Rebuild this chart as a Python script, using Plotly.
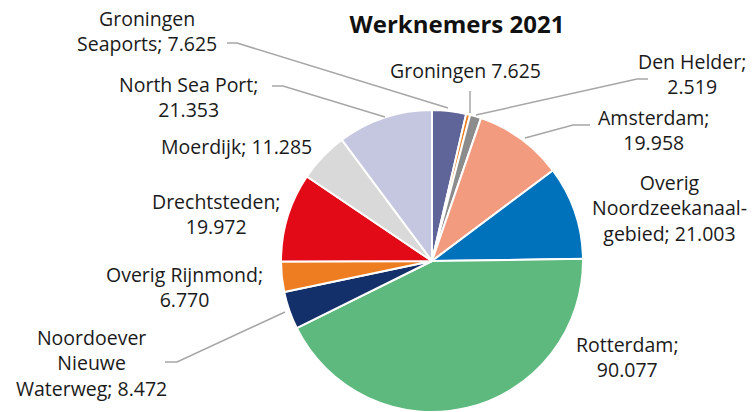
import plotly.graph_objects as go

W, H = 756, 412

# Data (clockwise from 12 o'clock)
regions = ["Groningen Seaports", "Groningen", "Den Helder", "Amsterdam",
           "Overig Noordzeekanaalgebied", "Rotterdam", "Noordoever Nieuwe Waterweg",
           "Overig Rijnmond", "Drechtsteden", "Moerdijk", "North Sea Port"]
# slice sizes as drawn in the picture (the "Groningen" slice is drawn as a sliver)
slice_values = [7.625, 0.9, 2.519, 19.958, 21.003, 90.077, 8.472, 6.770, 19.972, 11.285, 21.353]
# values as printed in the labels
label_values = ["7.625", "7.625", "2.519", "19.958", "21.003", "90.077", "8.472",
                "6.770", "19.972", "11.285", "21.353"]
label_texts = ["Groningen<br>Seaports; 7.625", "Groningen 7.625", "Den Helder;<br>2.519",
               "Amsterdam;<br>19.958", "Overig<br>Noordzeekanaal-<br>gebied; 21.003",
               "Rotterdam;<br>90.077", "Noordoever<br>Nieuwe<br>Waterweg; 8.472",
               "Overig Rijnmond;<br>6.770", "Drechtsteden;<br>19.972", "Moerdijk; 11.285",
               "North Sea Port;<br>21.353"]
colors = ["#5f6598", "#ee7d21", "#8c8c8c", "#f29b7e", "#0071bb", "#5eb97e",
          "#13306a", "#ee7d21", "#e30a17", "#d9d9d9", "#c5c7e0"]

# label centres (pixels)
label_pos = [(147, 31), (465, 70), (692, 74), (654, 130), (669, 208), (627, 357),
             (91, 363), (184, 287), (216, 214), (236, 146), (188, 97)]
# leader lines (pixels), None where no line
leaders = [
    [(227, 43), (237, 43), (448, 108)],
    [(470, 91), (470, 113)],
    [(476, 115), (637, 79), (648, 79)],
    [(525, 138), (573, 125), (590, 125)],
    None, None,
    [(285, 312), (177, 362), (165, 362)],
    None, None, None,
    [(272, 86), (283, 86), (385, 117)],
]

def px(x):
    return x / W

def py(y):
    return 1 - y / H

cx, cy, r = 432, 261, 151

fig = go.Figure(go.Pie(
    labels=regions, values=slice_values, sort=False, direction="clockwise",
    rotation=0, textinfo="none", hoverinfo="label+value",
    marker=dict(colors=colors, line=dict(color="white", width=2)),
    domain=dict(x=[px(cx - r), px(cx + r)], y=[py(cy + r), py(cy - r)]),
    showlegend=False,
))

font = dict(family="Open Sans", size=19.5, color="#1a1a1a")
for txt, (x, y) in zip(label_texts, label_pos):
    fig.add_annotation(x=px(x), y=py(y), xref="paper", yref="paper", text=txt,
                       showarrow=False, xanchor="center", yanchor="middle",
                       align="center", font=font)

for pts in leaders:
    if pts is None:
        continue
    path = "M " + " L ".join(f"{px(x)},{py(y)}" for x, y in pts)
    fig.add_shape(type="path", xref="paper", yref="paper", path=path,
                  line=dict(color="#a6a6a6", width=1.5))

fig.update_layout(
    width=W, height=H, margin=dict(l=0, r=0, t=0, b=0),
    paper_bgcolor="white", plot_bgcolor="white",
    title=dict(text="<b>Werknemers 2021</b>", x=px(457), y=py(25),
               xanchor="center", yanchor="middle",
               font=dict(family="Open Sans", size=24, color="#111111")),
)

fig.write_html("out.html", config={"displayModeBar": False},
               post_script="document.body.style.margin='0';document.body.style.overflow='hidden';")
